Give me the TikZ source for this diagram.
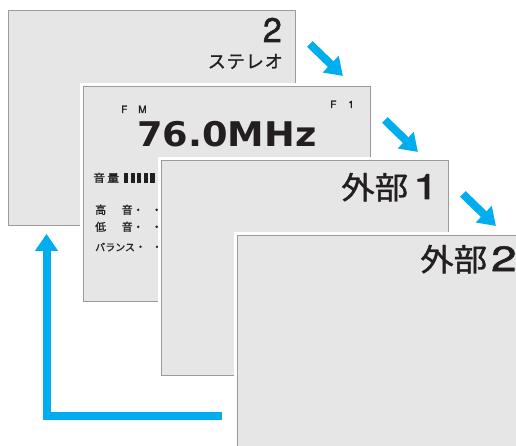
\documentclass[tikz,border=0pt]{standalone}
\usepackage{fontspec}
\setmainfont{Noto Sans CJK JP}[FakeBold=1.2]
\newfontfamily\heros{TeX Gyre Heros}[FakeBold=1.5]
\newfontfamily\dejavu{DejaVu Sans}
\usetikzlibrary{arrows.meta}
\definecolor{panelfill}{HTML}{E6E6E6}
\definecolor{panelline}{HTML}{9B9B9B}
\definecolor{flowblue}{HTML}{00AEEF}
\definecolor{ink}{HTML}{231F20}
\newcommand{\fsize}[1]{\fontsize{#1}{#1}\selectfont}
\newcommand{\widejp}[1]{\scalebox{1.08}[1]{#1}}

\begin{document}
\begin{tikzpicture}[
    x=1pt, y=-1pt,
    panel/.style={
      draw=panelline, fill=panelfill, line width=0.9pt,
      minimum width=287pt, minimum height=215pt,
      anchor=north west, inner sep=0pt,
      preaction={draw=white, line width=6pt}
    },
    txt/.style={inner sep=0pt, text=ink},
    nextarrow/.style={flowblue, line width=8pt,
      -{Triangle[width=22pt,length=17pt]}}
  ]
  \useasboundingbox (0,0) rectangle (516,446);
  \clip (0,0) rectangle (516,446);

  % Screen 1: channel / stereo
  \node[panel] (p1) at (8,10) {};
  \node[txt, anchor=base east, font=\heros\fsize{34}] (chnum) at (282,42) {2};
  \node[txt, anchor=base east, font=\fsize{18}] (chmode) at (283,68) {ス\hspace{1pt}テ\hspace{1pt}レ\hspace{1pt}オ};

  % Screen 2: tuner
  \node[panel] (p2) at (83,86) {};
  \node[txt, anchor=base west, font=\heros\fsize{10}] (band) at (121,113) {F\hspace{11pt}M};
  \node[txt, anchor=base west, font=\heros\fsize{10}] (preset) at (330,108) {F\hspace{12pt}1};
  \node[txt, anchor=base west, font=\dejavu\bfseries\fsize{34}] (freq) at (137,147) {\scalebox{1.08}[1]{76.0MHz}};
  \node[txt, anchor=base west, font=\fsize{11}] (vol) at (93,182) {\widejp{音\hspace{2pt}量}};
  \foreach \i in {0,...,4}
    \fill[ink] (124+6.6*\i,173) rectangle ++(4.2,10);
  \node[txt, anchor=base west, font=\fsize{11}] (treble) at (95,214) {高\hspace{15.5pt}音・\hspace{7.5pt}・};
  \node[txt, anchor=base west, font=\fsize{11}] (bass) at (95,231) {低\hspace{15.5pt}音・\hspace{7.5pt}・};
  \node[txt, anchor=base west, font=\fsize{10}] (balance) at (95,251) {バランス{\fsize{11}・\hspace{5.5pt}・}};

  % Screen 3: external 1
  \node[panel] (p3) at (161,160) {};
  \node[txt, anchor=base west, font=\fsize{31}] (ext1) at (341,199)
    {\widejp{外部}\hspace{5pt}{\heros\fsize{35}\scalebox{1.3}[1]{1}}};

  % Screen 4: external 2
  \node[panel] (p4) at (237,235) {};
  \node[txt, anchor=base west, font=\fsize{31}] (ext2) at (420,271)
    {\widejp{外部}\hspace{4pt}{\heros\fsize{35}\scalebox{1.3}[1]{2}}};

  % Arrows
  \foreach \p in {p1,p2,p3} {
    \draw[nextarrow] ([shift={(14,34)}]\p.north east) -- ([shift={(47,66)}]\p.north east);
  }
  \coordinate (loopstart) at ([shift={(-15,181)}]p4.north west);
  \draw[nextarrow] (loopstart) -| ([shift={(38.5,8)}]p1.south west);
\end{tikzpicture}
\end{document}
